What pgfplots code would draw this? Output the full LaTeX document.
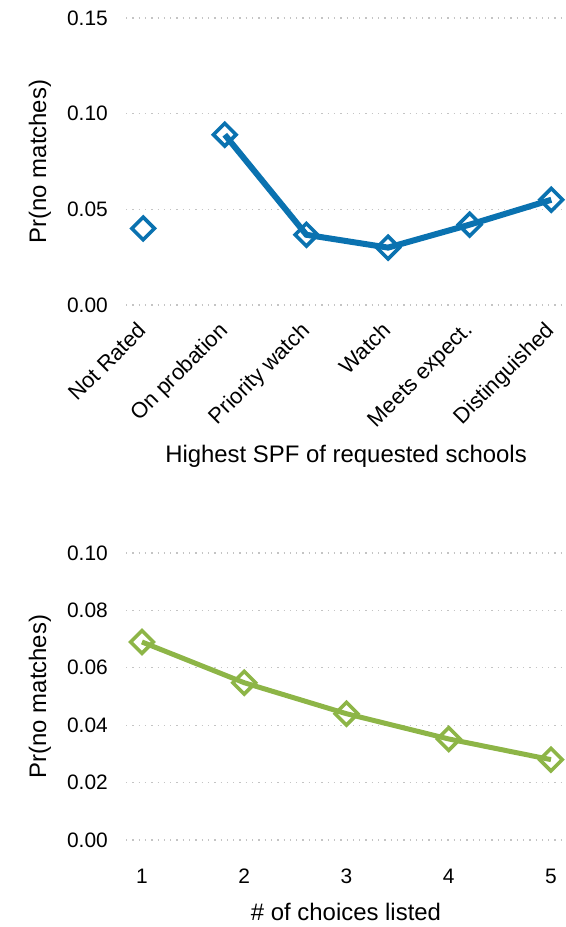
\documentclass[border=0pt]{standalone}
\usepackage{pgfplots}
\pgfplotsset{compat=1.18}
\usepackage{fontspec}
\setmainfont{Liberation Sans}
\definecolor{cblue}{HTML}{0A72B0}
\definecolor{cgreen}{HTML}{8DB547}
\definecolor{cgrid}{HTML}{C4C4C4}
\begin{document}
\begin{tikzpicture}
\useasboundingbox (0bp,0bp) rectangle (566bp,927bp);
\pgfplotsset{
  common/.style={
    scale only axis, width=440bp, clip=false,
    axis line style={draw=none}, major tick length=0pt, tick style={draw=none},
    ymajorgrids, xmajorgrids=false,
    major grid style={cgrid, line width=1.3bp, dash pattern=on 1.3bp off 5bp},
    /pgf/number format/assume math mode=true,
    yticklabel style={/pgf/number format/fixed, /pgf/number format/fixed zerofill, /pgf/number format/precision=2},
    tick label style={font=\fontsize{21}{21}\selectfont},
    yticklabel style={anchor=east, inner sep=0pt, xshift=-18bp},
    every axis y label/.style={at={(rel axis cs:0,0.5)}, xshift=-86bp, rotate=90, anchor=center, font=\fontsize{24}{24}\selectfont},
  },
}
\begin{axis}[common,
  at={(126bp,612.4bp)}, anchor=south west, height=306.2bp,
  xmin=-0.21, xmax=5.18, ymin=-0.005, ymax=0.155,
  ytick={0,0.05,0.10,0.15},
  xtick={0,1,2,3,4,5},
  xticklabels={Not Rated, On probation, Priority watch, Watch, Meets expect., Distinguished},
  xticklabel style={font=\fontsize{22}{22}\selectfont, inner sep=0pt, xshift=-7bp, yshift=-6bp, rotate=45, anchor=north east},
  ylabel={Pr(no matches)},
  xlabel={Highest SPF of requested schools},
  every axis x label/.style={at={(rel axis cs:0.5,0)}, yshift=-142bp, anchor=center, font=\fontsize{24}{24}\selectfont},
]
\addplot[cblue, line width=6bp, mark=square, mark size=8bp, mark options={rotate=45, fill=white, line width=3.6bp, solid}]
  coordinates {(0,0.040)};
\addplot[cblue, line width=6bp, mark=square, mark size=8bp, mark options={rotate=45, fill=white, line width=3.6bp, solid}]
  coordinates {(1,0.089) (2,0.0367) (3,0.030) (4,0.042) (5,0.055)};
\end{axis}
\begin{axis}[common,
  at={(126bp,72.65bp)}, anchor=south west, height=315.7bp,
  xmin=0.844, xmax=5.147, ymin=-0.005, ymax=0.105,
  ytick={0,0.02,0.04,0.06,0.08,0.10},
  xtick={1,2,3,4,5},
  xticklabel style={anchor=center, inner sep=0pt, yshift=-21.6bp},
  ylabel={Pr(no matches)},
  xlabel={\# of choices listed},
  every axis x label/.style={at={(rel axis cs:0.5,0)}, yshift=-57.6bp, anchor=center, font=\fontsize{24}{24}\selectfont},
]
\addplot[cgreen, line width=5bp, mark=square, mark size=8bp, mark options={rotate=45, fill=white, line width=3.6bp, solid}]
  coordinates {(1,0.069) (2,0.0548) (3,0.0440) (4,0.0352) (5,0.0280)};
\end{axis}
\end{tikzpicture}
\end{document}
